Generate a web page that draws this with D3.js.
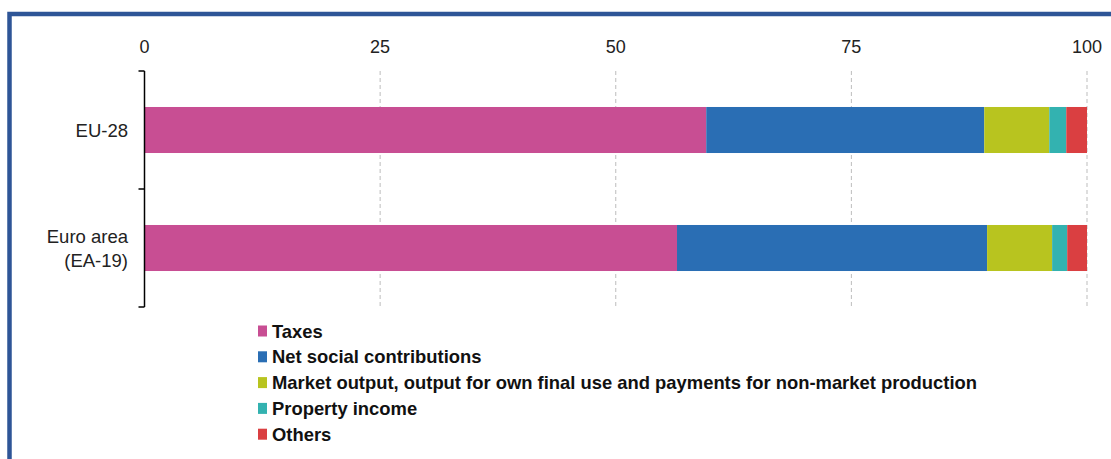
<!DOCTYPE html>
<html>
<head>
<meta charset="utf-8">
<script src="https://cdn.jsdelivr.net/npm/d3@7"></script>
<style>
  html, body { margin: 0; padding: 0; background: #fff; }
  svg { display: block; }
  text { font-family: "Liberation Sans", Arial, sans-serif; }
</style>
</head>
<body>
<svg id="chart" width="1111" height="459"></svg>
<script>
const categories = ["EU-28", "Euro area (EA-19)"];
const categoryLines = [["EU-28"], ["Euro area", "(EA-19)"]];
const seriesNames = [
  "Taxes",
  "Net social contributions",
  "Market output, output for own final use and payments for non-market production",
  "Property income",
  "Others"
];
const taxes = [59.6, 56.5];
const netSocial = [29.5, 32.9];
const marketOutput = [6.9, 6.9];
const propertyIncome = [1.8, 1.6];
const others = [2.2, 2.1];
const colors = ["#C84E93", "#2A6EB4", "#B8C41F", "#33B2B0", "#DA3F41"];
const xTicks = [0, 25, 50, 75, 100];

const seriesValues = [taxes, netSocial, marketOutput, propertyIncome, others];

const svg = d3.select("#chart");

// frame
svg.append("rect").attr("x", 9.5).attr("y", 14).attr("width", 1200).attr("height", 500)
  .attr("fill", "none").attr("stroke", "#2E5597").attr("stroke-width", 4.5);

const x = d3.scaleLinear().domain([0, 100]).range([144.5, 1087]);
const y = d3.scaleBand().domain(categories).range([71, 307]).paddingInner(0.61).paddingOuter(0.305);

// gridlines
svg.append("g").selectAll("line").data(xTicks.filter(d => d > 0)).join("line")
  .attr("x1", d => x(d)).attr("x2", d => x(d))
  .attr("y1", 71).attr("y2", 307)
  .attr("stroke", "#BDBDBD").attr("stroke-width", 1).attr("stroke-dasharray", "4,3");

// top tick labels
svg.append("g").selectAll("text").data(xTicks).join("text")
  .attr("x", d => x(d)).attr("y", 53)
  .attr("text-anchor", "middle").attr("font-size", 18).attr("fill", "#222")
  .text(d => d);

// stacked data
const rows = categories.map((c, i) => {
  const o = { cat: c };
  seriesNames.forEach((s, j) => o[s] = seriesValues[j][i]);
  return o;
});
const stack = d3.stack().keys(seriesNames)(rows);

svg.append("g").selectAll("g").data(stack).join("g")
  .attr("fill", (d, i) => colors[i])
  .selectAll("rect").data(d => d).join("rect")
  .attr("x", d => x(d[0]))
  .attr("width", d => x(d[1]) - x(d[0]))
  .attr("y", d => y(d.data.cat))
  .attr("height", y.bandwidth());

// left axis line with boundary ticks
const yTop = y.range()[0], yBot = y.range()[1], step = y.step();
const tickYs = d3.range(categories.length + 1).map(i => yTop + i * step);
const ax = svg.append("g");
ax.append("line").attr("x1", x(0)).attr("x2", x(0)).attr("y1", yTop).attr("y2", yBot)
  .attr("stroke", "#000").attr("stroke-width", 1.5);
ax.selectAll("line.t").data(tickYs).join("line").attr("class", "t")
  .attr("x1", x(0) - 6).attr("x2", x(0)).attr("y1", d => d).attr("y2", d => d)
  .attr("stroke", "#000").attr("stroke-width", 1.5);

// category labels
categories.forEach((c, i) => {
  const lines = categoryLines[i];
  const cy = y(c) + y.bandwidth() / 2;
  const lh = 24;
  const t = svg.append("text").attr("text-anchor", "end").attr("font-size", 18.5).attr("fill", "#222");
  lines.forEach((l, k) => {
    t.append("tspan").attr("x", 128)
      .attr("y", cy + (k - (lines.length - 1) / 2) * lh + 7)
      .text(l);
  });
});

// legend
const lg = svg.append("g").attr("transform", "translate(258,331)");
seriesNames.forEach((s, i) => {
  const g = lg.append("g").attr("transform", `translate(0,${i * 25.8})`);
  g.append("rect").attr("x", 0).attr("y", -5.5).attr("width", 9).attr("height", 11).attr("fill", colors[i]);
  g.append("text").attr("x", 14).attr("y", 6.5).attr("font-size", 18.4).attr("font-weight", "bold")
    .attr("fill", "#111").text(s);
});
</script>
</body>
</html>
